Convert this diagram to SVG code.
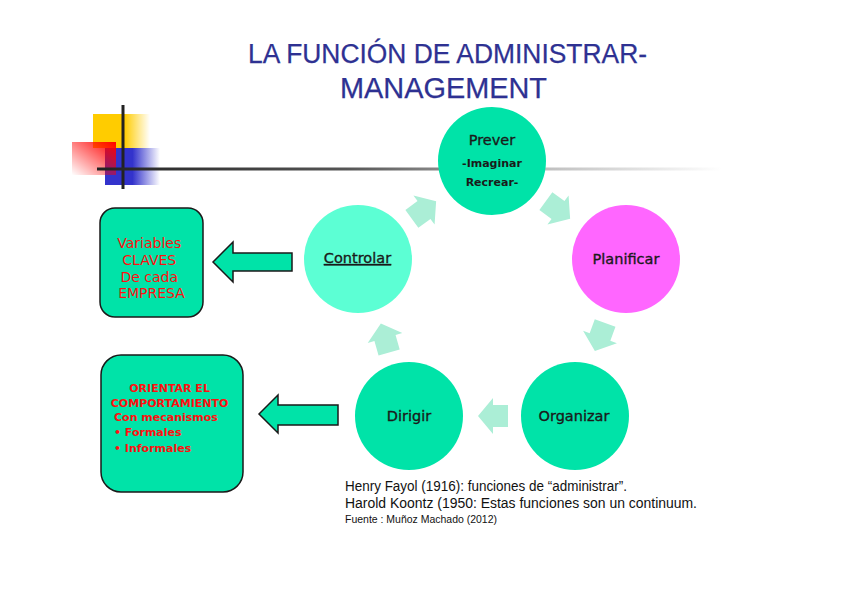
<svg xmlns="http://www.w3.org/2000/svg" width="848" height="599" viewBox="0 0 848 599">
<defs>
<style>
.title{font-family:"Liberation Sans",Arial,sans-serif;fill:#2E3192;text-anchor:middle;stroke:#2E3192;stroke-width:0.25}
.lbl{font-family:"DejaVu Sans",Verdana,sans-serif;font-size:14.5px;fill:#1a1a1a;text-anchor:middle;stroke:#1a1a1a;stroke-width:0.35}
.sub{font-family:"DejaVu Sans",Verdana,sans-serif;font-size:11px;font-weight:bold;fill:#1a1a1a;text-anchor:middle}
.red{font-family:"DejaVu Sans",Verdana,sans-serif;fill:#FF1010}
.note{font-family:"Liberation Sans",Arial,sans-serif;fill:#111}
.box{fill:#00E3A8;stroke:#1a1a1a;stroke-width:1.5}
.big{fill:#00E3A8;stroke:#1a1a1a;stroke-width:1.5;stroke-linejoin:miter}
.sm{fill:#ABEED6}
.c1{fill:#00E3A8}
</style>
<linearGradient id="gy" x1="0" y1="0" x2="1" y2="0">
<stop offset="0" stop-color="#FFCC00"/><stop offset="0.55" stop-color="#FFCC00"/><stop offset="1" stop-color="#FFCC00" stop-opacity="0"/>
</linearGradient>
<linearGradient id="gb" x1="0" y1="0" x2="1" y2="0">
<stop offset="0" stop-color="#3333CC"/><stop offset="0.5" stop-color="#3333CC"/><stop offset="1" stop-color="#3333CC" stop-opacity="0"/>
</linearGradient>
<linearGradient id="gr" x1="1" y1="0" x2="0" y2="1">
<stop offset="0" stop-color="#FF0000"/><stop offset="1" stop-color="#FF0000" stop-opacity="0"/>
</linearGradient>
<linearGradient id="gl" gradientUnits="userSpaceOnUse" x1="97" y1="0" x2="722" y2="0">
<stop offset="0" stop-color="#222"/><stop offset="0.4" stop-color="#555"/><stop offset="0.7" stop-color="#bbb"/><stop offset="1" stop-color="#fff"/>
</linearGradient>
<polygon id="ar" points="-15,-11 0,-11 0,-18 15,0 0,18 0,11 -15,11"/>
</defs>
<rect width="848" height="599" fill="#fff"/>

<g id="title">
<text class="title" x="447.5" y="63" font-size="27" textLength="399" lengthAdjust="spacingAndGlyphs">LA FUNCIÓN DE ADMINISTRAR-</text>
<text class="title" x="443.5" y="98" font-size="29" textLength="207" lengthAdjust="spacingAndGlyphs">MANAGEMENT</text>
</g>

<g id="decoration">
<rect x="93" y="114" width="57" height="34" fill="url(#gy)"/>
<rect x="105" y="148" width="55" height="37" fill="url(#gb)"/>
<rect x="72" y="142" width="44" height="33" fill="url(#gr)"/>
<line x1="123" y1="105" x2="123" y2="189" stroke="#222" stroke-width="3"/>
<line x1="97" y1="169" x2="722" y2="169" stroke="url(#gl)" stroke-width="3"/>
</g>

<g id="connectors">
<use href="#ar" class="sm" transform="translate(558,210) rotate(36)"/>
<use href="#ar" class="sm" transform="translate(600,337) rotate(110)"/>
<use href="#ar" class="sm" transform="translate(493,416) rotate(180)"/>
<use href="#ar" class="sm" transform="translate(385,338) rotate(-106)"/>
<use href="#ar" class="sm" transform="translate(424,210) rotate(-36)"/>
<polygon class="big" points="213,262 233,242 233,253 292,253 292,271 233,271 233,282"/>
<polygon class="big" points="259,414 278,395 278,405 338,405 338,425 278,425 278,433"/>
</g>

<g id="prever">
<circle class="c1" cx="492" cy="161" r="54"/>
<text class="lbl" x="492" y="145">Prever</text>
<text class="sub" x="492" y="167">-Imaginar</text>
<text class="sub" x="492" y="186">Recrear-</text>
</g>

<g id="planificar">
<circle cx="626" cy="259" r="54" fill="#FF66FF"/>
<text class="lbl" x="626" y="264">Planificar</text>
</g>

<g id="organizar">
<circle class="c1" cx="575" cy="416" r="54"/>
<text class="lbl" x="574" y="421">Organizar</text>
</g>

<g id="dirigir">
<circle class="c1" cx="409" cy="416" r="54"/>
<text class="lbl" x="409" y="421">Dirigir</text>
</g>

<g id="controlar">
<circle cx="358" cy="259" r="54" fill="#5CFFD4"/>
<text class="lbl" x="357.5" y="263" text-decoration="underline">Controlar</text>
</g>

<g id="variables">
<rect class="box" x="100" y="208" width="103" height="109" rx="15"/>
<text class="red" font-size="14" text-anchor="middle">
<tspan x="151.5" y="248">Variables</tspan>
<tspan x="151.5" y="265">CLAVES</tspan>
<tspan x="151.5" y="282">De cada</tspan>
<tspan x="151.5" y="298">EMPRESA</tspan>
</text>
</g>

<g id="orientar">
<rect class="box" x="101" y="355" width="142" height="137" rx="20"/>
<text class="red" font-size="11" font-weight="bold">
<tspan x="171.5" y="392" text-anchor="middle">ORIENTAR EL</tspan>
<tspan x="171.5" y="407" text-anchor="middle">COMPORTAMIENTO</tspan>
<tspan x="114" y="421">Con mecanismos</tspan>
<tspan x="114" y="436">• Formales</tspan>
<tspan x="114" y="452">• Informales</tspan>
</text>
</g>

<g id="notes">
<text class="note" x="345" y="491" font-size="14" textLength="282" lengthAdjust="spacingAndGlyphs">Henry Fayol (1916): funciones de “administrar”.</text>
<text class="note" x="345" y="508" font-size="14" textLength="352" lengthAdjust="spacingAndGlyphs">Harold Koontz (1950: Estas funciones son un continuum.</text>
<text class="note" x="345" y="523" font-size="10.5" textLength="152" lengthAdjust="spacingAndGlyphs">Fuente : Muñoz Machado (2012)</text>
</g>
</svg>
